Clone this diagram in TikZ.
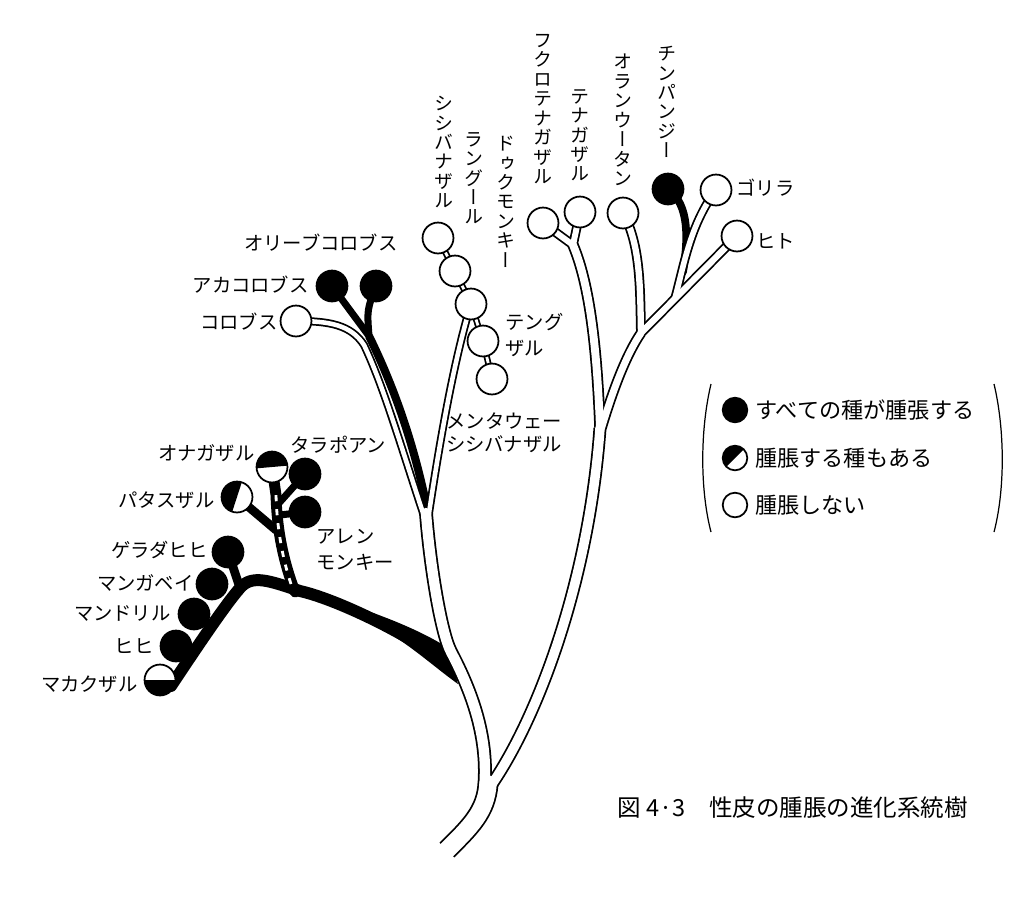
\documentclass[tikz,border=0pt]{standalone}
\usepackage{fontspec}
\setmainfont{Noto Sans CJK JP}
\newfontfamily\vfont[RawFeature=+vert]{Noto Sans CJK JP}

% 白い枝（二重線）: #1 = 色, #2 = 細くする幅, #3 = 線端
\newcommand{\whitebranches}[3]{%
  \begin{scope}[#1,line cap=#3,line join=round]
  % 幹
  \draw[line width=11.9pt-#2] (base) .. controls (470,827) and (486,812) .. (split);
  % 旧世界ザル
  \draw[line width=7.9pt-#2] (splitl) .. controls (488,735) and (471,690) .. (451,652) .. controls (441,633) and (430,565) .. (owsplit);
  \draw[line width=4.6pt-#2] (owsplitl) .. controls (399,440) and (383,385) .. (364,345) .. controls (351,325) and (330,321) .. (pColobus);
  \draw[line width=4.6pt-#2] (owsplitr) .. controls (440,440) and (454,360) .. (pDouc);
  \draw[line width=3.6pt-#2] (pShishi) -- (pLangur) -- (pDouc) -- (pTengu) -- (pMentawai);
  % 類人猿
  \draw[line width=7.4pt-#2] (splitr) .. controls (539,715) and (589,580) .. (apesplit);
  \draw[line width=6.5pt-#2] (apesplit) .. controls (597,350) and (590,285) .. (hylosplit);
  \draw[line width=5.4pt-#2] (hylosplit) -- (pFukuro);
  \draw[line width=5.4pt-#2] (hylosplit) -- (pTenaga);
  \draw[line width=6pt-#2] (apesplitr) .. controls (613,390) and (626,355) .. (gasplit);
  \draw[line width=5.6pt-#2] (gasplit) .. controls (640,290) and (641,245) .. (pOrang);
  \draw[line width=5.6pt-#2] (gasplit) -- (pHuman);
  \draw[line width=5.2pt-#2] (afsplit) .. controls (684,265) and (690,225) .. (pGorilla);
  \end{scope}
}

\begin{document}
\begin{tikzpicture}[x=0.02cm,y=-0.02cm,
    wsp/.style={circle,draw,line width=1pt,fill=white,minimum size=17.6pt,inner sep=0pt},
    bsp/.style={wsp,fill=black},
    hsp/.style={wsp,path picture={\fill[black] (path picture bounding box.center) -- ++(#1:1cm) arc[start angle=#1,end angle=#1+180,radius=1cm] -- cycle;}},
    blk/.style={black,line width=#1,line cap=round},
    lab/.style={font=\fontsize{11}{14.7}\selectfont,inner sep=0pt,align=left},
    vlab/.style={font=\vfont\fontsize{10.8}{11.05}\selectfont,inner sep=0pt,align=center,anchor=north},
    leg/.style={font=\fontsize{12.6}{15}\selectfont,inner sep=0pt,anchor=west}]
    \useasboundingbox (0,0) rectangle (1024,904);

    % 分岐点
    \coordinate (base) at (447,850);
    \coordinate (split) at (488,784);
    \coordinate (splitl) at (484.5,784);
    \coordinate (splitr) at (492,784);
    \coordinate (owsplit) at (426,513);
    \coordinate (owsplitl) at (423,513);
    \coordinate (owsplitr) at (429,513);
    \coordinate (apesplit) at (600,428);
    \coordinate (apesplitr) at (601.5,428);
    \coordinate (hylosplit) at (573,245);
    \coordinate (gasplit) at (641,333);
    \coordinate (afsplit) at (675,298);
    \coordinate (colblk) at (427,508);
    \coordinate (colsplit) at (369,336);
    \coordinate (cerbase) at (452,668);
    \coordinate (cerpeak) at (240,588);
    \coordinate (cerend) at (171,686);
    \coordinate (gstem) at (295,592);
    \coordinate (gtop) at (276,495);
    \coordinate (gpatas) at (276,530);
    \coordinate (gtala) at (279,503);
    \coordinate (gallen) at (280,515);
    \coordinate (chimpbase) at (683,272);

    % 種の位置
    \coordinate (pFukuro) at (543,223);
    \coordinate (pTenaga) at (580,212);
    \coordinate (pOrang) at (623,213);
    \coordinate (pChimp) at (668,189);
    \coordinate (pGorilla) at (716,190);
    \coordinate (pHuman) at (737,236);
    \coordinate (pShishi) at (438,238);
    \coordinate (pLangur) at (455,271);
    \coordinate (pDouc) at (471,304);
    \coordinate (pTengu) at (483,341);
    \coordinate (pMentawai) at (492,379);
    \coordinate (pColobus) at (296,321);
    \coordinate (pAkacol) at (332,286);
    \coordinate (pOlivecol) at (376,286);
    \coordinate (pOnaga) at (272,467);
    \coordinate (pTalapoin) at (305,474);
    \coordinate (pAllen) at (305,512);
    \coordinate (pPatas) at (237,497);
    \coordinate (pGelada) at (228,552);
    \coordinate (pMangabey) at (212,584);
    \coordinate (pMandrill) at (194,614);
    \coordinate (pHihi) at (176,646);
    \coordinate (pMacaca) at (160,680);

    % 黒い枝
    \fill (362,609) .. controls (400,622) and (430,636) .. (448,648) -- (458,684) .. controls (430,664) and (400,635) .. (362,619) -- cycle;
    \draw[blk=6.8pt] (cerbase) .. controls (420,640) and (340,600) .. (300,591) .. controls (270,581) and (252,574) .. (cerpeak) .. controls (225,605) and (195,650) .. (cerend);
    \draw[blk=5pt] (cerpeak) -- (pGelada);
    \draw[blk=6.2pt] (gstem) .. controls (283,560) and (277,530) .. (gtop) -- (pOnaga);
    \draw[blk=5pt] (gpatas) -- (pPatas);
    \draw[blk=4pt] (gtala) -- (pTalapoin);
    \draw[blk=4pt] (gallen) -- (pAllen);
    \draw[blk=4.6pt,line cap=butt] (colblk) .. controls (413,440) and (393,385) .. (colsplit);
    \draw[blk=4pt] (colsplit) -- (pAkacol);
    \draw[blk=4pt] (colsplit) .. controls (367,310) .. (pOlivecol);
    \draw[blk=4.4pt] (chimpbase) .. controls (688,240) and (690,205) .. (pChimp);

    % 白い枝
    \whitebranches{black}{0pt}{butt}
    \whitebranches{white}{2pt}{round}
    \draw[white,line width=1.6pt,dash pattern=on 3.5pt off 4.5pt] (291,584) .. controls (283,560) and (277,530) .. (gtop);

    % 種
    \node[wsp] (fukuro) at (pFukuro) {};
    \node[wsp] (tenaga) at (pTenaga) {};
    \node[wsp] (orang) at (pOrang) {};
    \node[bsp] (chimp) at (pChimp) {};
    \node[wsp] (gorilla) at (pGorilla) {};
    \node[wsp] (human) at (pHuman) {};
    \node[wsp] (shishi) at (pShishi) {};
    \node[wsp] (langur) at (pLangur) {};
    \node[wsp] (douc) at (pDouc) {};
    \node[wsp] (tengu) at (pTengu) {};
    \node[wsp] (mentawai) at (pMentawai) {};
    \node[wsp] (colobus) at (pColobus) {};
    \node[bsp] (akacol) at (pAkacol) {};
    \node[bsp] (olivecol) at (pOlivecol) {};
    \node[hsp=5] (onaga) at (pOnaga) {};
    \node[bsp] (talapoin) at (pTalapoin) {};
    \node[bsp] (allen) at (pAllen) {};
    \node[hsp=72] (patas) at (pPatas) {};
    \node[bsp] (gelada) at (pGelada) {};
    \node[bsp] (mangabey) at (pMangabey) {};
    \node[bsp] (mandrill) at (pMandrill) {};
    \node[bsp] (hihi) at (pHihi) {};
    \node[hsp=180] (macaca) at (pMacaca) {};

    % 種名
    \node[vlab] (lshishi) at (444,96) {シ\\シ\\バ\\ナ\\ザ\\ル};
    \node[vlab] (llangur) at (474,132) {ラ\\ン\\グ\\ー\\ル};
    \node[vlab] (ldouc) at (506,136) {ド\\ゥ\\ク\\モ\\ン\\キ\\ー};
    \node[vlab] (lfukuro) at (543,34) {フ\\ク\\ロ\\テ\\ナ\\ガ\\ザ\\ル};
    \node[vlab] (ltenaga) at (580,89) {テ\\ナ\\ガ\\ザ\\ル};
    \node[vlab] (lorang) at (623,54) {オ\\ラ\\ン\\ウ\\ー\\タ\\ン};
    \node[vlab] (lchimp) at (667,46) {チ\\ン\\パ\\ン\\ジ\\ー};
    \node[lab,anchor=west] (lgorilla) at (736,188) {ゴリラ};
    \node[lab,anchor=west] (lhuman) at (756,241) {ヒト};
    \node[lab,anchor=west] (ltengu) at (505,335) {テング\\ザル};
    \node[lab,anchor=west,font=\fontsize{11}{13}\selectfont] (lmentawai) at (446,433) {メンタウェー\\シシバナザル};
    \node[lab,anchor=east] (lolivecol) at (398,243) {オリーブコロブス};
    \node[lab,anchor=east] (lakacol) at (309,285) {アカコロブス};
    \node[lab,anchor=east] (lcolobus) at (278,322) {コロブス};
    \node[lab,anchor=west] (ltalapoin) at (290,445) {タラポアン};
    \node[lab,anchor=east] (lonaga) at (255,453) {オナガザル};
    \node[lab,anchor=east] (lpatas) at (215,500) {パタスザル};
    \node[lab,anchor=west] (lallen) at (316,550) {アレン\\モンキー};
    \node[lab,anchor=east] (lgelada) at (208,550) {ゲラダヒヒ};
    \node[lab,anchor=east] (lmangabey) at (194,583) {マンガベイ};
    \node[lab,anchor=east] (lmandrill) at (171,613) {マンドリル};
    \node[lab,anchor=east] (lhihi) at (154,646) {ヒヒ};
    \node[lab,anchor=east] (lmacaca) at (138,684) {マカクザル};

    % 凡例
    \draw[line width=0.7pt] (711,384) .. controls (700,430) and (700,490) .. (711,532);
    \draw[line width=0.7pt] (994,384) .. controls (1005,430) and (1005,490) .. (994,532);
    \node[bsp,minimum size=14pt] (kall) at (735,410) {};
    \node[hsp=45,minimum size=14pt] (ksome) at (735,458) {};
    \node[wsp,minimum size=14pt] (knone) at (735,505) {};
    \node[leg] (tall) at (755,410) {すべての種が腫張する};
    \node[leg] (tsome) at (755,458) {腫脹する種もある};
    \node[leg] (tnone) at (755,505) {腫脹しない};

    \node[anchor=west,inner sep=0pt,font=\fontsize{13.4}{16}\selectfont] (caption) at (617,808) {図 4·3　性皮の腫脹の進化系統樹};
\end{tikzpicture}
\end{document}
